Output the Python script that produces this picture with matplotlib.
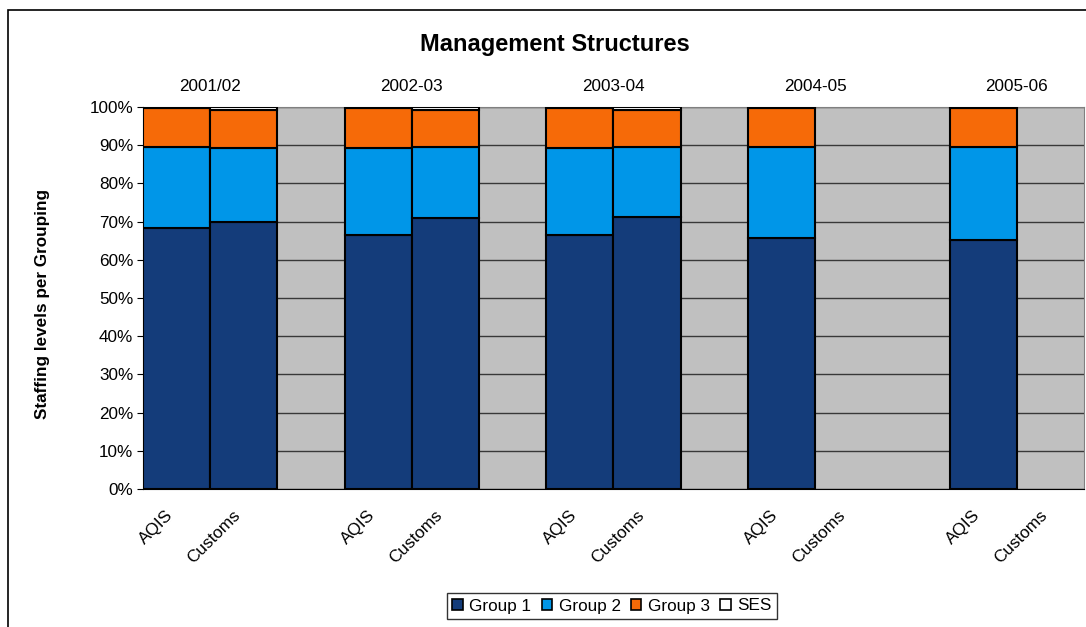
import numpy as np
import matplotlib
matplotlib.use("Agg")
import matplotlib.pyplot as plt
from matplotlib.patches import Rectangle, Patch
from matplotlib.transforms import ScaledTranslation

years = ["2001/02", "2002-03", "2003-04", "2004-05", "2005-06"]
agencies = ["AQIS", "Customs"]
series = ["Group 1", "Group 2", "Group 3", "SES"]

# values in percent, NaN = no data
aqis_g1 = [68.2, 66.6, 66.6, 65.7, 65.3]
aqis_g2 = [21.4, 22.6, 22.6, 23.9, 24.3]
aqis_g3 = [10.1, 10.5, 10.5, 10.1, 10.1]
aqis_ses = [0.3, 0.3, 0.3, 0.3, 0.3]

cust_g1 = [70.0, 70.9, 71.3, np.nan, np.nan]
cust_g2 = [19.2, 18.7, 18.3, np.nan, np.nan]
cust_g3 = [9.9, 9.5, 9.5, np.nan, np.nan]
cust_ses = [0.9, 0.9, 0.9, np.nan, np.nan]

colors = ["#143C7A", "#0096E8", "#F66A08", "#FFFFFF"]

plt.rcParams['font.family'] = ['Liberation Sans', 'DejaVu Sans']
FS = 12.3

fig = plt.figure(figsize=(10.86, 6.27), dpi=100)
ax = fig.add_axes([143/1086, 1-489/627, (1084-143)/1086, (489-107)/627])
ax.set_facecolor("#C0C0C0")

# outer border
fig.patches.append(Rectangle((8/1086, -0.05), 1.2, 1-10/627+0.05, transform=fig.transFigure,
                             fill=False, edgecolor="black", linewidth=1.2, zorder=0))

aqis = [aqis_g1, aqis_g2, aqis_g3, aqis_ses]
cust = [cust_g1, cust_g2, cust_g3, cust_ses]

xa = np.arange(len(years)) * 3
xc = xa + 1

for data, xs in ((aqis, xa), (cust, xc)):
    bottom = np.zeros(len(years))
    for i, vals in enumerate(data):
        v = np.array(vals, dtype=float)
        mask = ~np.isnan(v)
        ax.bar(xs[mask], v[mask], width=1.0, bottom=bottom[mask], color=colors[i],
               edgecolor="black", linewidth=1.5, zorder=3)
        bottom = bottom + np.nan_to_num(v)

ax.set_xlim(-0.5, len(years) * 3 - 1.5)
ax.set_ylim(0, 100)
ax.set_yticks(np.arange(0, 101, 10))
ax.set_yticklabels([f"{t}%" for t in range(0, 101, 10)], fontsize=FS)
ax.yaxis.grid(True, color="#383838", linewidth=1.0, zorder=1)
ax.set_axisbelow(True)

ticks = np.concatenate([xa, xc])
labels = ["AQIS"] * len(years) + ["Customs"] * len(years)
ax.set_xticks(ticks)
ax.set_xticklabels(labels, rotation=45, ha="right", va="top", rotation_mode="anchor", fontsize=FS)
ax.tick_params(axis="x", length=0, pad=15)
ax.tick_params(axis="y", length=4, direction="out", color="black", pad=3)
for lab in ax.get_xticklabels():
    lab.set_transform(lab.get_transform() + ScaledTranslation(-11/100, 2/100, fig.dpi_scale_trans))

for s in ("top", "right"):
    ax.spines[s].set_color("#808080")
for s in ("left", "bottom"):
    ax.spines[s].set_color("black")

for i, y in enumerate(years):
    ax.annotate(y, xy=(xa[i] + 0.5, 1.0), xycoords=("data", "axes fraction"),
                xytext=(0, 15), textcoords="offset points", ha="center", va="center", fontsize=FS)

fig.text(43/1086, 1-304/627, "Staffing levels per Grouping", rotation=90, ha="center", va="center",
         fontsize=FS, fontweight="bold")
fig.text(555/1086, 1-45/627, "Management Structures", ha="center", va="center",
         fontsize=17, fontweight="bold")

handles = [Patch(facecolor=c, edgecolor="black", linewidth=1.2) for c in colors]
leg = fig.legend(handles, series, loc="center", bbox_to_anchor=(612/1086, 1-606/627), ncol=4,
                 fontsize=FS, frameon=True, fancybox=False, edgecolor="black",
                 handlelength=0.6, handleheight=0.6, handletextpad=0.4, columnspacing=0.6,
                 borderpad=0.3)
leg.get_frame().set_linewidth(1.0)

fig.savefig("out.png", dpi=100)
